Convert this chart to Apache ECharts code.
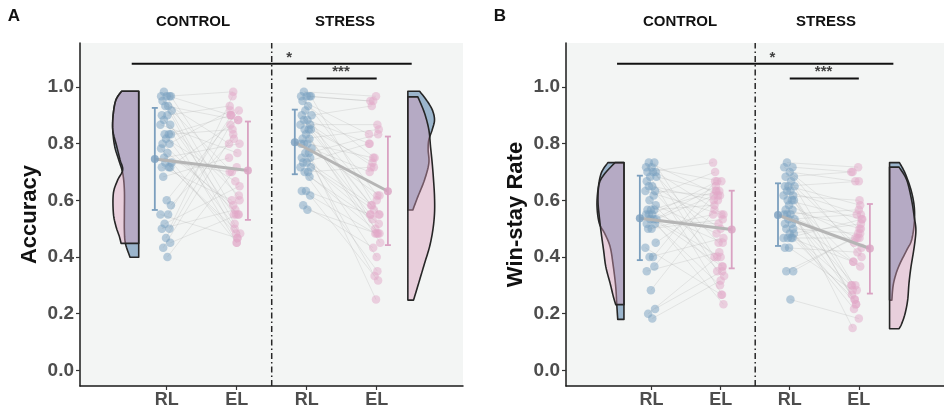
<!DOCTYPE html>
<html>
<head>
<meta charset="utf-8">
<script src="https://cdn.jsdelivr.net/npm/echarts@6/dist/echarts.min.js"></script>
<style>
html, body {margin: 0; padding: 0; background: #fff;}
#chart {width: 944px; height: 410px;}
</style>
</head>
<body>
<div id="chart"></div>
<script>
// x positions: 1 = RL control, 2 = EL control, 3 = RL stress, 4 = EL stress
const groupLabels = ['RL', 'EL', 'RL', 'EL'];
const groupPos = [1, 2, 3, 4];
const yTicks = [0, 0.2, 0.4, 0.6, 0.8, 1.0];

// ---- panel A: accuracy (EL arrays are in subject order, paired with RL by index)
const accCtrlRL = [0.983, 0.967, 0.967, 0.967, 0.967, 0.95, 0.933, 0.933, 0.917, 0.9, 0.9, 0.883, 0.867, 0.867, 0.833, 0.833, 0.833, 0.817, 0.8, 0.8,
    0.783, 0.767, 0.75, 0.733, 0.733, 0.717, 0.717, 0.717, 0.683, 0.6, 0.583, 0.55, 0.55, 0.517, 0.5, 0.5, 0.467, 0.45, 0.433, 0.4];
const accCtrlEL = [0.55, 0.9, 0.467, 0.983, 0.6, 0.8, 0.517, 0.883, 0.7, 0.45, 0.933, 0.617, 0.55, 0.767, 0.9, 0.483, 0.85, 0.667, 0.55, 0.917,
    0.45, 0.583, 0.8, 0.7, 0.5, 0.883, 0.6, 0.483, 0.75, 0.917, 0.817, 0.467, 0.9, 0.65, 0.967, 0.567, 0.867, 0.55, 0.833, 0.717];
const accStrRL = [0.983, 0.967, 0.967, 0.967, 0.967, 0.95, 0.933, 0.917, 0.9, 0.9, 0.883, 0.883, 0.867, 0.867, 0.85, 0.85, 0.85, 0.833, 0.817, 0.817,
    0.8, 0.8, 0.8, 0.783, 0.767, 0.767, 0.75, 0.75, 0.733, 0.733, 0.717, 0.717, 0.7, 0.7, 0.683, 0.633, 0.633, 0.617, 0.583, 0.567];
const accStrEL = [0.967, 0.95, 0.617, 0.95, 0.55, 0.833, 0.75, 0.483, 0.933, 0.6, 0.8, 0.55, 0.717, 0.867, 0.583, 0.45, 0.733, 0.5, 0.85, 0.55,
    0.4, 0.75, 0.617, 0.7, 0.333, 0.833, 0.583, 0.25, 0.8, 0.517, 0.567, 0.35, 0.717, 0.483, 0.533, 0.483, 0.55, 0.317, 0.433, 0.483];
const accMean = [0.746, 0.705, 0.805, 0.632];
const accLow = [0.566, 0.531, 0.692, 0.442];
const accHigh = [0.926, 0.878, 0.920, 0.825];

// ---- panel B: win-stay rate
const wsCtrlRL = [0.733, 0.733, 0.717, 0.717, 0.7, 0.7, 0.7, 0.683, 0.683, 0.667, 0.65, 0.65, 0.633, 0.633, 0.617, 0.6, 0.583, 0.567, 0.567, 0.567,
    0.55, 0.55, 0.55, 0.533, 0.533, 0.533, 0.517, 0.517, 0.5, 0.5, 0.45, 0.433, 0.4, 0.4, 0.367, 0.35, 0.283, 0.217, 0.2, 0.183];
const wsCtrlEL = [0.617, 0.4, 0.667, 0.35, 0.55, 0.733, 0.45, 0.267, 0.633, 0.5, 0.6, 0.367, 0.617, 0.55, 0.7, 0.333, 0.483, 0.633, 0.45, 0.583,
    0.4, 0.667, 0.233, 0.617, 0.517, 0.367, 0.65, 0.3, 0.55, 0.533, 0.6, 0.267, 0.667, 0.467, 0.633, 0.417, 0.567, 0.35, 0.4, 0.317];
const wsStrRL = [0.733, 0.717, 0.717, 0.7, 0.683, 0.683, 0.667, 0.65, 0.65, 0.65, 0.633, 0.633, 0.617, 0.617, 0.6, 0.6, 0.6, 0.583, 0.567, 0.567,
    0.55, 0.55, 0.55, 0.533, 0.533, 0.517, 0.517, 0.5, 0.5, 0.483, 0.483, 0.467, 0.467, 0.467, 0.467, 0.433, 0.433, 0.35, 0.35, 0.25];
const wsStrEL = [0.717, 0.7, 0.5, 0.667, 0.4, 0.7, 0.283, 0.583, 0.45, 0.667, 0.3, 0.55, 0.233, 0.6, 0.383, 0.533, 0.25, 0.467, 0.5, 0.15,
    0.567, 0.3, 0.433, 0.267, 0.55, 0.367, 0.217, 0.483, 0.3, 0.517, 0.233, 0.467, 0.383, 0.533, 0.25, 0.417, 0.283, 0.483, 0.467, 0.183];
const wsMean = [0.537, 0.497, 0.548, 0.430];
const wsLow = [0.389, 0.360, 0.439, 0.271];
const wsHigh = [0.687, 0.634, 0.660, 0.587];

// horizontal jitter of the dots (axis units), by subject
const jitRL = [-0.03, 0.05, -0.07, 0.01, 0.07, -0.05, 0.03, -0.01, 0.08, -0.06, 0.02, -0.03, 0.06, -0.08, 0.04, -0.02, 0.07, 0.0, -0.05, 0.05,
    -0.07, 0.02, -0.03, 0.08, -0.01, 0.04, -0.06, 0.06, -0.04, 0.01, 0.07, -0.08, 0.03, -0.02, 0.05, -0.06, 0.0, 0.06, -0.04, 0.02];
const jitEL = [0.02, -0.06, 0.04, -0.02, 0.07, -0.08, 0.0, 0.05, -0.04, 0.03, -0.07, 0.06, -0.01, 0.04, -0.05, 0.08, -0.03, 0.01, 0.06, -0.06,
    0.03, -0.02, 0.07, -0.07, 0.0, 0.05, -0.04, 0.02, -0.08, 0.06, -0.01, 0.04, -0.05, 0.07, -0.03, 0.01, -0.06, 0.05, -0.02, 0.03];

// half violin outlines: [value, half width]
const accVioCtrlRL = [[0.985, 0.243], [0.955, 0.324], [0.908, 0.362], [0.849, 0.371], [0.790, 0.343], [0.743, 0.286], [0.696, 0.229],
    [0.637, 0.205], [0.554, 0.205], [0.495, 0.205], [0.448, 0.19], [0.399, 0.124]];
const accVioCtrlEL = [[0.985, 0.243], [0.955, 0.324], [0.908, 0.362], [0.849, 0.371], [0.790, 0.314], [0.743, 0.267], [0.707, 0.229],
    [0.672, 0.3], [0.625, 0.362], [0.554, 0.362], [0.507, 0.324], [0.472, 0.276], [0.448, 0.252]];
const accVioStrRL = [[0.985, 0.167], [0.955, 0.262], [0.920, 0.348], [0.884, 0.381], [0.849, 0.348], [0.814, 0.3], [0.778, 0.29],
    [0.731, 0.3], [0.672, 0.238], [0.613, 0.143], [0.566, 0.071]];
const accVioStrEL = [[0.965, 0.143], [0.908, 0.238], [0.849, 0.3], [0.790, 0.324], [0.731, 0.348], [0.672, 0.367], [0.613, 0.381],
    [0.554, 0.381], [0.495, 0.357], [0.436, 0.31], [0.377, 0.238], [0.318, 0.167], [0.271, 0.11], [0.248, 0.081]];
const wsVioCtrlRL = [[0.733, 0.233], [0.696, 0.329], [0.637, 0.376], [0.578, 0.39], [0.519, 0.357], [0.484, 0.281], [0.436, 0.2],
    [0.365, 0.153], [0.295, 0.119], [0.232, 0.104], [0.180, 0.09]];
const wsVioCtrlEL = [[0.733, 0.129], [0.696, 0.271], [0.660, 0.357], [0.601, 0.376], [0.542, 0.357], [0.484, 0.329], [0.424, 0.295],
    [0.365, 0.262], [0.307, 0.2], [0.259, 0.152], [0.232, 0.119]];
const wsVioStrRL = [[0.733, 0.143], [0.696, 0.224], [0.637, 0.31], [0.578, 0.357], [0.519, 0.357], [0.460, 0.319], [0.424, 0.248],
    [0.365, 0.129], [0.307, 0.057], [0.248, 0.033]];
const wsVioStrEL = [[0.717, 0.138], [0.672, 0.248], [0.601, 0.319], [0.542, 0.357], [0.495, 0.381], [0.436, 0.357], [0.365, 0.31],
    [0.307, 0.281], [0.248, 0.262], [0.200, 0.224], [0.165, 0.176], [0.147, 0.138]];

// significance brackets: [x start, x end, y] and stars [x, y, text]
const sigLines = [[0.5, 4.5, 1.082], [3, 4, 1.03]];
const sigStars = [[2.75, 1.102, '*'], [3.49, 1.052, '***']];

const xMin = -0.239, xMax = 5.233, yMin = -0.055, yMax = 1.155;
const BLUE = '#7b9fbe', PINK = '#d9a2c2';
const BLUE_PT = 'rgb(120,160,192)', PINK_PT = 'rgb(226,168,200)';
const VIO_BLUE = 'rgba(96,139,176,0.6)', VIO_PINK = 'rgba(218,156,187,0.42)';
const INK = '#262626';

function catmull(pts) {
    const out = [];
    const n = pts.length;
    for (let i = 0; i < n - 1; i++) {
        const p0 = pts[Math.max(i - 1, 0)], p1 = pts[i], p2 = pts[i + 1], p3 = pts[Math.min(i + 2, n - 1)];
        for (let s = 0; s < 8; s++) {
            const t = s / 8, t2 = t * t, t3 = t2 * t;
            const f = k => 0.5 * (2 * p1[k] + (-p0[k] + p2[k]) * t + (2 * p0[k] - 5 * p1[k] + 4 * p2[k] - p3[k]) * t2
                + (-p0[k] + 3 * p1[k] - 3 * p2[k] + p3[k]) * t3);
            out.push([f(0), f(1)]);
        }
    }
    out.push(pts[n - 1]);
    return out;
}

function violin(gi, prof, edge, dir, fill, z) {
    return {
        type: 'custom', xAxisIndex: gi, yAxisIndex: gi, z: z, silent: true, clip: false,
        data: [[edge, prof[0][0]]],
        renderItem: function (params, api) {
            const curve = prof.map(p => api.coord([edge + dir * p[1], p[0]]));
            const pts = [api.coord([edge, prof[0][0]])].concat(catmull(curve), [api.coord([edge, prof[prof.length - 1][0]])]);
            return {type: 'polygon', shape: {points: pts}, style: {fill: fill, stroke: INK, lineWidth: 1.6, lineJoin: 'round'}};
        }
    };
}

function panel(gi, d) {
    let series = [];
    series.push(violin(gi, d.vio[0], 0.6, -1, VIO_BLUE, 2));
    series.push(violin(gi, d.vio[1], 0.6, -1, VIO_PINK, 3));
    series.push(violin(gi, d.vio[2], 4.445, 1, VIO_BLUE, 2));
    series.push(violin(gi, d.vio[3], 4.445, 1, VIO_PINK, 3));

    // paired subject lines
    let pairs = [];
    [[d.rl1, d.el1, 1, 2], [d.rl2, d.el2, 3, 4]].forEach(function (c) {
        for (let i = 0; i < c[0].length; i++) {
            pairs.push([c[2] + jitRL[i] - 0.01, c[0][i], c[3] + jitEL[i] - 0.03, c[1][i]]);
        }
    });
    series.push({
        type: 'custom', xAxisIndex: gi, yAxisIndex: gi, z: 4, silent: true,
        data: pairs, encode: {x: [0, 2], y: [1, 3]},
        renderItem: function (params, api) {
            const a = api.coord([api.value(0), api.value(1)]);
            const b = api.coord([api.value(2), api.value(3)]);
            return {type: 'line', shape: {x1: a[0], y1: a[1], x2: b[0], y2: b[1]},
                style: {stroke: 'rgba(170,170,170,0.25)', lineWidth: 1}};
        }
    });

    const rlPts = d.rl1.map((v, i) => [1 + jitRL[i] - 0.01, v]).concat(d.rl2.map((v, i) => [3 + jitRL[i] - 0.01, v]));
    const elPts = d.el1.map((v, i) => [2 + jitEL[i] - 0.03, v]).concat(d.el2.map((v, i) => [4 + jitEL[i] - 0.03, v]));
    series.push({type: 'scatter', xAxisIndex: gi, yAxisIndex: gi, z: 5, data: rlPts, symbolSize: 8.5,
        itemStyle: {color: BLUE_PT, opacity: 0.5}});
    series.push({type: 'scatter', xAxisIndex: gi, yAxisIndex: gi, z: 5, data: elPts, symbolSize: 8.5,
        itemStyle: {color: PINK_PT, opacity: 0.5}});

    // group means, joined
    const mx = groupPos.map((p, i) => i % 2 === 0 ? p - 0.17 : p + 0.16);
    [[0, 1], [2, 3]].forEach(function (c) {
        series.push({type: 'line', xAxisIndex: gi, yAxisIndex: gi, z: 6, symbol: 'none',
            data: [[mx[c[0]], d.mean[c[0]]], [mx[c[1]], d.mean[c[1]]]],
            lineStyle: {color: '#b5b5b5', width: 3}});
    });

    // error bars
    series.push({
        type: 'custom', xAxisIndex: gi, yAxisIndex: gi, z: 7, silent: true,
        data: mx.map((x, i) => [x, d.low[i], d.high[i], i % 2]), encode: {x: 0, y: [1, 2]},
        renderItem: function (params, api) {
            const x = api.value(0);
            const lo = api.coord([x, api.value(1)]), hi = api.coord([x, api.value(2)]);
            const col = api.value(3) === 0 ? BLUE : PINK;
            const st = {stroke: col, lineWidth: 1.8};
            return {type: 'group', children: [
                {type: 'line', shape: {x1: lo[0], y1: lo[1], x2: hi[0], y2: hi[1]}, style: st},
                {type: 'line', shape: {x1: lo[0] - 3, y1: lo[1], x2: lo[0] + 3, y2: lo[1]}, style: st},
                {type: 'line', shape: {x1: hi[0] - 3, y1: hi[1], x2: hi[0] + 3, y2: hi[1]}, style: st}
            ]};
        }
    });
    series.push({type: 'scatter', xAxisIndex: gi, yAxisIndex: gi, z: 8, symbolSize: 8,
        data: mx.map((x, i) => ({value: [x, d.mean[i]], itemStyle: {color: i % 2 === 0 ? BLUE : PINK}}))});

    // condition divider
    series.push({type: 'line', xAxisIndex: gi, yAxisIndex: gi, z: 9, symbol: 'none',
        data: [[2.5, yMin], [2.5, yMax]],
        lineStyle: {color: INK, width: 1.5, type: [6, 3, 1.5, 3]}});

    sigLines.forEach(function (s) {
        series.push({type: 'line', xAxisIndex: gi, yAxisIndex: gi, z: 9, symbol: 'none',
            data: [[s[0], s[2]], [s[1], s[2]]], lineStyle: {color: '#111', width: 2}});
    });
    series.push({type: 'scatter', xAxisIndex: gi, yAxisIndex: gi, z: 9, symbolSize: 0,
        data: sigStars.map(s => ({value: [s[0], s[1]], name: s[2]})),
        label: {show: true, position: 'inside', formatter: '{b}', color: '#111', fontSize: 15, fontWeight: 'bold',
            fontFamily: 'Liberation Sans, Arial, sans-serif'}});
    return series;
}

function xAx(gi) {
    return {
        gridIndex: gi, type: 'value', min: xMin, max: xMax, splitLine: {show: false},
        axisLine: {show: true, onZero: false, lineStyle: {color: '#1a1a1a', width: 1.5}},
        axisTick: {show: true, customValues: groupPos, length: 4, lineStyle: {color: '#333', width: 1.2}},
        axisLabel: {customValues: groupPos, formatter: v => groupLabels[Math.round(v) - 1], margin: 5,
            fontSize: 18, fontWeight: 'bold', color: '#4d4d4d', fontFamily: 'Liberation Sans, Arial, sans-serif'}
    };
}

function yAx(gi, name) {
    return {
        gridIndex: gi, type: 'value', min: yMin, max: yMax, splitLine: {show: false},
        name: name, nameLocation: 'middle', nameGap: 39,
        nameTextStyle: {fontSize: 22, fontWeight: 'bold', color: '#111', fontFamily: 'Liberation Sans, Arial, sans-serif'},
        axisLine: {show: true, onZero: false, lineStyle: {color: '#1a1a1a', width: 1.5}},
        axisTick: {show: true, customValues: yTicks, length: 4, lineStyle: {color: '#333', width: 1.2}},
        axisLabel: {customValues: yTicks, formatter: v => v.toFixed(1), margin: 6,
            fontSize: 19, fontWeight: 'bold', color: '#4d4d4d', fontFamily: 'Liberation Sans, Arial, sans-serif'}
    };
}

function label(text, x, y, size) {
    return {type: 'text', x: x, y: y, silent: true,
        style: {text: text, fill: '#111', fontSize: size, fontWeight: 'bold', align: 'center', verticalAlign: 'middle',
            fontFamily: 'Liberation Sans, Arial, sans-serif'}};
}

const chart = echarts.init(document.getElementById('chart'));
const option = {
    animation: false,
    backgroundColor: '#fff',
    grid: [
        {left: 80, top: 43, width: 383, height: 343, show: true, backgroundColor: '#f3f5f4', borderWidth: 0},
        {left: 566, top: 43, width: 383, height: 343, show: true, backgroundColor: '#f3f5f4', borderWidth: 0}
    ],
    xAxis: [xAx(0), xAx(1)],
    yAxis: [yAx(0, 'Accuracy'), yAx(1, 'Win-stay Rate')],
    graphic: [
        label('A', 14, 16, 17), label('CONTROL', 193, 22, 15), label('STRESS', 345, 22, 15),
        label('B', 500, 16, 17), label('CONTROL', 680, 22, 15), label('STRESS', 826, 22, 15)
    ],
    series: panel(0, {rl1: accCtrlRL, el1: accCtrlEL, rl2: accStrRL, el2: accStrEL, mean: accMean, low: accLow, high: accHigh,
            vio: [accVioCtrlRL, accVioCtrlEL, accVioStrRL, accVioStrEL]})
        .concat(panel(1, {rl1: wsCtrlRL, el1: wsCtrlEL, rl2: wsStrRL, el2: wsStrEL, mean: wsMean, low: wsLow, high: wsHigh,
            vio: [wsVioCtrlRL, wsVioCtrlEL, wsVioStrRL, wsVioStrEL]}))
};
chart.setOption(option);
</script>
</body>
</html>
